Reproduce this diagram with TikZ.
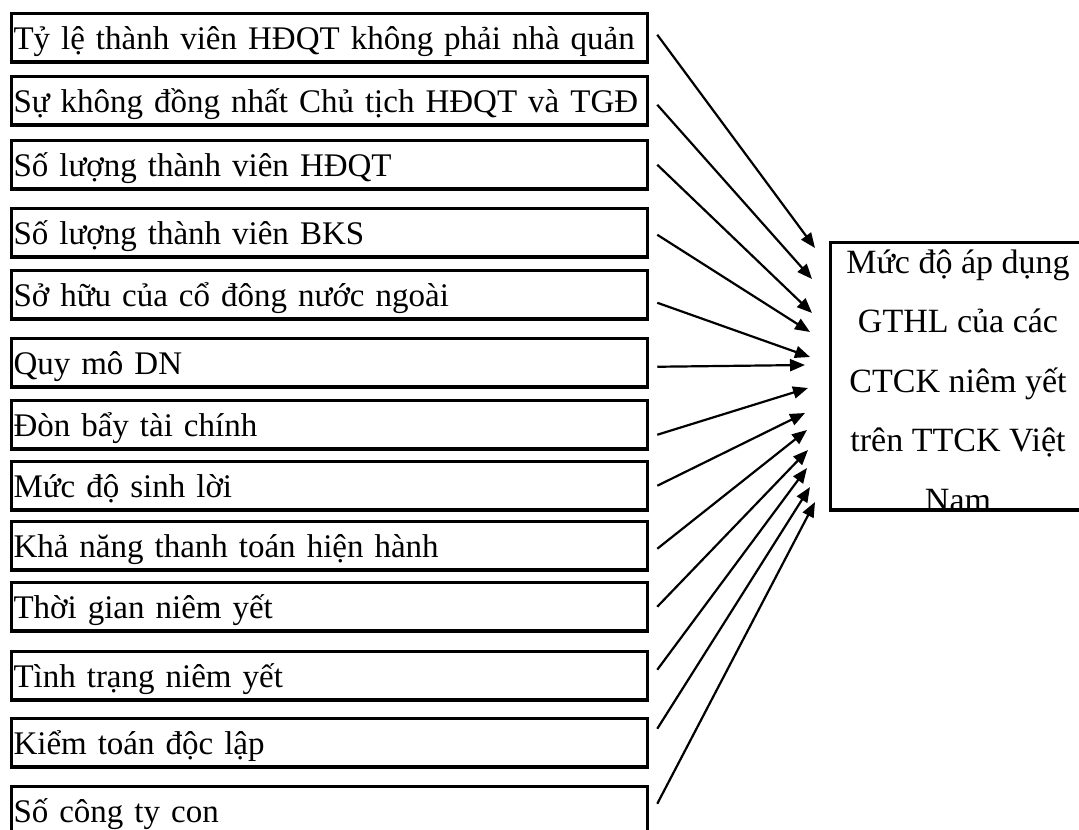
\documentclass[tikz,border=0pt]{standalone}
\usepackage{fontspec}
\setmainfont{Liberation Serif}
\usetikzlibrary{arrows.meta}

\tikzset{
  factor/.style={draw, line width=3.5pt, anchor=north west, text width=632pt, align=left,
    inner xsep=2pt, inner ysep=0pt, text height=35.5pt, text depth=13pt},
  result/.style={draw, line width=3.5pt, anchor=north west, minimum width=260pt,
    minimum height=267.5pt, inner sep=0pt},
  link/.style={line width=2.2pt, -{Triangle[length=15pt,width=12pt]}},
}

\begin{document}
\begin{tikzpicture}[x=1pt, y=-1pt, font=\fontsize{33}{40}\selectfont]
  \clip (0,0) rectangle (1079,830);
  % nhan to anh huong
  \foreach \i/\yt/\txt in {1/10/Tỷ lệ thành viên HĐQT không phải nhà quản,
      2/73/Sự không đồng nhất Chủ tịch HĐQT và TGĐ,
      3/137/Số lượng thành viên HĐQT,
      4/205/Số lượng thành viên BKS,
      5/267/Sở hữu của cổ đông nước ngoài,
      6/335/Quy mô DN,
      7/397/Đòn bẩy tài chính,
      8/458/Mức độ sinh lời,
      9/518/Khả năng thanh toán hiện hành,
      10/579/Thời gian niêm yết,
      11/648/Tình trạng niêm yết,
      12/715/Kiểm toán độc lập,
      13/783/Số công ty con} {
    \node[factor] (f\i) at (9.75,\yt+1.75) {\mbox{\txt}};
  }
  % bien phu thuoc
  \node[result] (res) at (828.75,240.75) {};
  \begin{scope}
    \clip (res.north west) rectangle ([yshift=1.75pt]res.south east);
    \node[align=center, anchor=base, font=\fontsize{34}{59.5}\selectfont] (restext) at (958,511)
      {Mức độ áp dụng\\GTHL của các\\CTCK niêm yết\\trên TTCK Việt\\Nam};
  \end{scope}
  % mui ten
  \foreach \i/\dy/\tx/\ty in {1/-3/815/248, 2/4/812/279, 3/0/812/313, 4/2/810/332,
      5/8/810/357, 6/4/805/365, 7/10/808/388, 8/0/805/413, 9/3/807/430,
      10/0/808/450, 11/-6/807/468, 12/-14/810/487, 13/-7/815/502} {
    \coordinate (t\i) at (\tx,\ty);
    \draw[link] ([shift={(8,\dy)}]f\i.east) -- (t\i);
  }
\end{tikzpicture}
\end{document}
